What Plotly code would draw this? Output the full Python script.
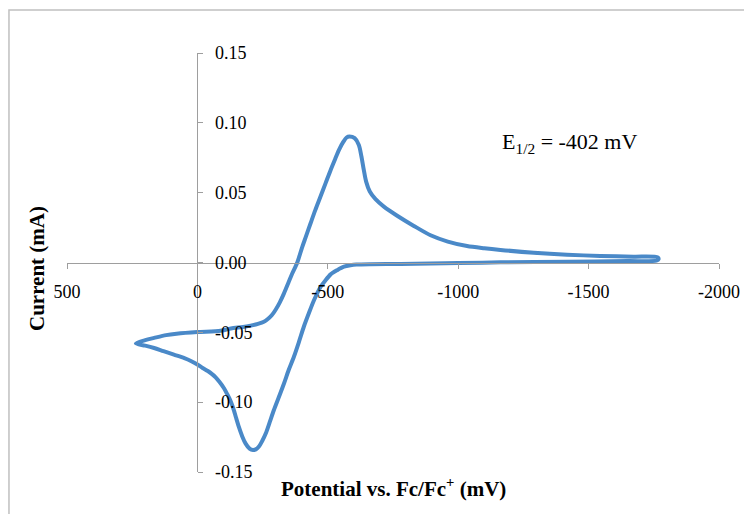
import plotly.graph_objects as go

# ---- data ----
potential_mV = [
    236, 200, 166, 120, 80, 0, -89, -128, -175, -204, -235, -255, -270, -285, -300, -316,
    -332, -350, -364, -383, -400, -415, -434, -452, -472, -492, -511, -528, -543, -560,
    -572, -583, -603, -619, -629, -638, -647, -661, -683, -715, -766, -830, -894,
    -960, -1034, -1100, -1162, -1290, -1417, -1545, -1673, -1765, -1768,
    -1760, -1650, -1417, -1162, -1000, -894, -780, -664, -610, -587, -562, -536, -511,
    -490, -472, -447, -428, -408, -390, -370, -350, -332, -312, -293, -277, -262, -248,
    -236, -224, -213, -200, -185, -172, -159, -148, -140, -128, -115, -102, -85, -70,
    -55, -40, -20, 0, 25, 50, 90, 130, 166, 200, 236,
]
current_mA = [
    -0.0580, -0.0556, -0.0540, -0.0520, -0.0510, -0.0498, -0.0489, -0.0472, -0.0462,
    -0.0452, -0.0438, -0.0424, -0.0405, -0.0378, -0.0338, -0.0285, -0.0221, -0.0140,
    -0.0077, 0.0000, 0.0100, 0.0180, 0.0281, 0.0375, 0.0472, 0.0570, 0.0663, 0.0740,
    0.0807, 0.0865, 0.0895, 0.0902, 0.0890, 0.0842, 0.0759, 0.0663, 0.0579, 0.0508,
    0.0453, 0.0400, 0.0335, 0.0262, 0.0195, 0.0150, 0.0118, 0.0102, 0.0090,
    0.0070, 0.0056, 0.0047, 0.0042, 0.0037, 0.0022,
    0.0013, 0.0010, 0.0006, 0.0001, -0.0004, -0.0008, -0.0010, -0.0012, -0.0015,
    -0.0020, -0.0030, -0.0055, -0.0085, -0.0130, -0.0175, -0.0270, -0.0360, -0.0460,
    -0.0565, -0.0675, -0.0770, -0.0866, -0.0965, -0.1058, -0.1145, -0.1225, -0.1280,
    -0.1318, -0.1338, -0.1343, -0.1333, -0.1297, -0.1245, -0.1177, -0.1110, -0.1058,
    -0.0995, -0.0945, -0.0900, -0.0855, -0.0822, -0.0797, -0.0777, -0.0755, -0.0730,
    -0.0705, -0.0685, -0.0660, -0.0635, -0.0612, -0.0595, -0.0580,
]

x_tick_vals = [500, 0, -500, -1000, -1500, -2000]
x_tick_text = ["500", "0", "-500", "-1000", "-1500", "-2000"]
y_tick_vals = [0.15, 0.10, 0.05, 0.00, -0.05, -0.10, -0.15]
y_tick_text = ["0.15", "0.10", "0.05", "0.00", "-0.05", "-0.10", "-0.15"]

x_title = "Potential vs. Fc/Fc<sup>+</sup> (mV)"
y_title = "Current (mA)"
note = "E<sub>1/2</sub> = -402 mV"

FONT = "Liberation Serif, Times New Roman, serif"
AXIS_COLOR = "#9e9e9e"

fig = go.Figure()
fig.add_trace(go.Scatter(
    x=potential_mV, y=current_mA, mode="lines",
    line=dict(color="#4a89c8", width=4, shape="spline", smoothing=0.8),
    hoverinfo="skip", showlegend=False,
))

# page body has an 8px margin, so the figure is sized/offset to compensate
fig.update_layout(
    width=744, height=506,
    margin=dict(l=59, r=33, t=45, b=42),
    paper_bgcolor="white", plot_bgcolor="white",
    font=dict(family=FONT, size=18, color="black"),
    showlegend=False,
    xaxis=dict(
        range=[500, -2000], anchor="free", position=0.5,
        showgrid=False, zeroline=False,
        showline=True, linecolor=AXIS_COLOR, linewidth=1,
        ticks="outside", ticklen=5, tickcolor=AXIS_COLOR, tickwidth=1,
        tickvals=x_tick_vals, ticktext=x_tick_text,
        ticklabelstandoff=8,
        tickfont=dict(family=FONT, size=18, color="black"),
    ),
    yaxis=dict(
        range=[-0.15, 0.15], anchor="free", position=0.2, side="right",
        showgrid=False, zeroline=False,
        showline=True, linecolor=AXIS_COLOR, linewidth=1,
        ticks="outside", ticklen=5, tickcolor=AXIS_COLOR, tickwidth=1,
        tickvals=y_tick_vals, ticktext=y_tick_text,
        ticklabelstandoff=8,
        tickfont=dict(family=FONT, size=18, color="black"),
    ),
    shapes=[dict(
        type="rect", xref="paper", yref="paper",
        x0=-0.089, x1=1.2, y0=-0.3, y1=1.1026,
        line=dict(color="#c0c0c0", width=1.5), fillcolor="rgba(0,0,0,0)", layer="below",
    )],
    annotations=[
        dict(text=x_title, xref="paper", yref="paper", x=0.5, y=-0.038,
             xanchor="center", yanchor="middle", showarrow=False,
             font=dict(family=FONT, size=21, color="black", weight="bold")),
        dict(text=y_title, xref="paper", yref="paper", x=-0.046, y=0.4845,
             xanchor="center", yanchor="middle", showarrow=False, textangle=-90,
             font=dict(family=FONT, size=21, color="black", weight="bold")),
        dict(text=note, xref="paper", yref="paper", x=0.771, y=0.785,
             xanchor="center", yanchor="middle", showarrow=False,
             font=dict(family=FONT, size=22, color="black")),
    ],
)

fig.write_html("out.html")
